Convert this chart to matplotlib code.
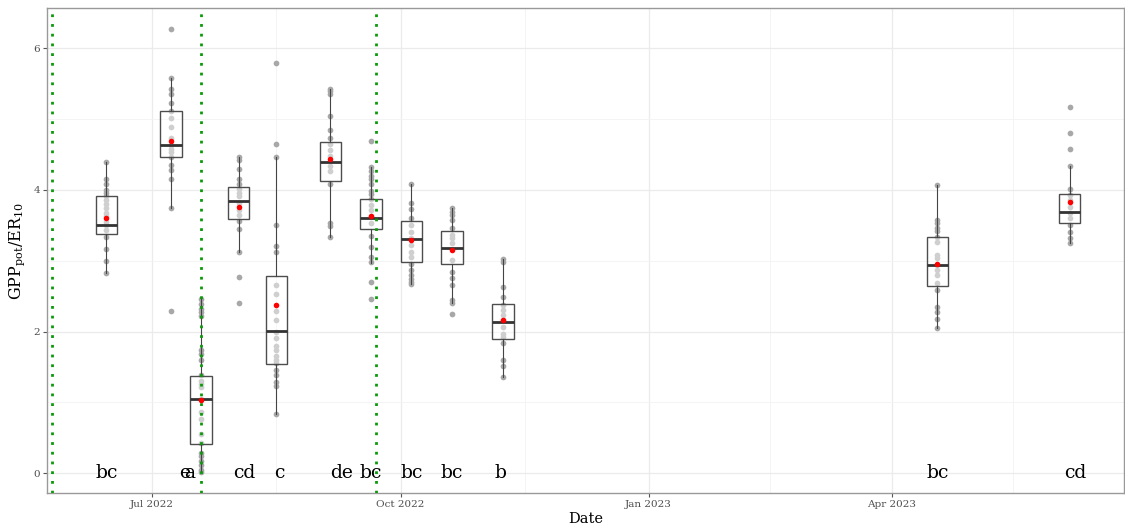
import numpy as np
import matplotlib
matplotlib.use('Agg')
import matplotlib.pyplot as plt
import matplotlib.dates as mdates
from matplotlib.ticker import FixedLocator

plt.rcParams['font.family'] = ['DejaVu Serif']
plt.rcParams['mathtext.fontset'] = 'dejavuserif'

# sampling dates of each box
box_dates = ['2022-06-14', '2022-07-08', '2022-07-19', '2022-08-02', '2022-08-16', '2022-09-05',
             '2022-09-20', '2022-10-05', '2022-10-20', '2022-11-08', '2023-04-18', '2023-06-06']

# box statistics
q1 = [3.38, 4.46, 0.41, 3.59, 1.54, 4.12, 3.45, 2.98, 2.96, 1.90, 2.64, 3.54]
med = [3.51, 4.63, 1.05, 3.85, 2.01, 4.40, 3.61, 3.31, 3.18, 2.14, 2.94, 3.69]
q3 = [3.91, 5.11, 1.37, 4.04, 2.78, 4.68, 3.87, 3.56, 3.42, 2.39, 3.33, 3.94]
whislo = [2.82, 3.75, 0.02, 3.13, 0.84, 3.33, 2.97, 2.67, 2.40, 1.36, 2.05, 3.25]
whishi = [4.40, 5.58, 2.46, 4.46, 4.46, 5.43, 4.32, 4.08, 3.74, 3.02, 4.07, 4.34]
means = [3.60, 4.69, 1.04, 3.76, 2.38, 4.43, 3.63, 3.29, 3.15, 2.16, 2.96, 3.83]

# individual observations per date
points = [
    [4.40, 4.15, 4.08, 4.00, 3.96, 3.91, 3.86, 3.80, 3.74, 3.68, 3.63, 3.55, 3.50, 3.44, 3.33, 3.17, 3.00, 2.82],
    [6.27, 5.58, 5.43, 5.35, 5.23, 5.11, 5.01, 4.89, 4.74, 4.63, 4.58, 4.53, 4.46, 4.35, 4.28, 4.16, 3.75, 2.29],
    [2.46, 2.39, 2.32, 2.27, 2.22, 1.74, 1.69, 1.60, 1.38, 1.30, 1.26, 1.22, 1.05, 0.87, 0.76, 0.55, 0.43,
     0.29, 0.24, 0.17, 0.11, 0.05, 0.02],
    [4.46, 4.42, 4.30, 4.15, 4.08, 4.01, 3.96, 3.91, 3.82, 3.72, 3.65, 3.56, 3.45, 3.13, 2.77, 2.40],
    [5.79, 4.65, 4.46, 3.50, 3.21, 3.12, 2.66, 2.53, 2.29, 2.17, 2.00, 1.91, 1.79, 1.74, 1.65, 1.60, 1.55,
     1.46, 1.38, 1.29, 1.23, 0.84],
    [5.43, 5.39, 5.35, 5.05, 4.85, 4.73, 4.65, 4.57, 4.48, 4.34, 4.27, 4.08, 3.53, 3.49, 3.33],
    [4.69, 4.32, 4.27, 4.20, 4.15, 4.08, 3.99, 3.94, 3.87, 3.79, 3.72, 3.63, 3.53, 3.35, 3.20, 3.06, 2.98,
     2.70, 2.46],
    [4.08, 3.81, 3.73, 3.60, 3.51, 3.41, 3.32, 3.22, 3.13, 3.06, 2.96, 2.87, 2.80, 2.74, 2.70, 2.67],
    [3.74, 3.69, 3.64, 3.58, 3.46, 3.36, 3.32, 3.25, 3.01, 2.84, 2.75, 2.66, 2.45, 2.40, 2.25],
    [3.02, 2.98, 2.63, 2.49, 2.37, 2.31, 2.23, 2.16, 2.07, 1.97, 1.92, 1.84, 1.60, 1.51, 1.36],
    [4.07, 3.58, 3.53, 3.46, 3.42, 3.33, 3.27, 3.08, 3.04, 2.94, 2.87, 2.80, 2.68, 2.58, 2.35, 2.28, 2.18, 2.05],
    [5.17, 4.80, 4.58, 4.34, 4.02, 3.93, 3.86, 3.76, 3.67, 3.60, 3.50, 3.41, 3.32, 3.25],
]

# significance letters
letters = ['bc', 'e', 'a', 'cd', 'c', 'de', 'bc', 'bc', 'bc', 'b', 'bc', 'cd']
letter_dates = ['2022-06-14', '2022-07-13', '2022-07-15', '2022-08-04', '2022-08-17', '2022-09-09',
                '2022-09-20', '2022-10-05', '2022-10-20', '2022-11-07', '2023-04-18', '2023-06-08']

# event dates (dotted lines)
event_dates = ['2022-05-25', '2022-07-19', '2022-09-22']

major_dates = ['2022-07-01', '2022-10-01', '2023-01-01', '2023-04-01']
minor_dates = ['2022-08-16', '2022-11-16', '2023-02-15', '2023-05-16']

pos = mdates.datestr2num(box_dates)

fig = plt.figure(figsize=(11.25, 5.29), dpi=100)
ax = fig.add_axes([0.0418, 0.068, 0.957, 0.917])

for x, p in zip(pos, points):
    ax.scatter(np.full(len(p), x), p, s=17, color='#a8a8a8', linewidths=0, zorder=2)

stats = []
for i in range(len(pos)):
    stats.append(dict(q1=q1[i], med=med[i], q3=q3[i], whislo=whislo[i], whishi=whishi[i], mean=means[i]))

ax.bxp(stats, positions=pos, widths=8, showfliers=False, showcaps=False, patch_artist=True,
       manage_ticks=False, zorder=3,
       boxprops=dict(facecolor=(1, 1, 1, 0.45), edgecolor='#4d4d4d', linewidth=1),
       medianprops=dict(color='#333333', linewidth=2),
       whiskerprops=dict(color='#444444', linewidth=0.8))

ax.scatter(pos, means, s=16, color='red', linewidths=0, zorder=5)

for d in mdates.datestr2num(event_dates):
    ax.axvline(d, color='#0a9a0a', linestyle=(0, (1, 2.5)), linewidth=2, zorder=4)

for lab, d in zip(letters, mdates.datestr2num(letter_dates)):
    ax.text(d, 0, lab, ha='center', va='center', fontsize=13.5, zorder=6)

ax.set_xlim(mdates.datestr2num('2022-05-23'), mdates.datestr2num('2023-06-26'))
ax.set_ylim(-0.28, 6.57)

ax.xaxis.set_major_locator(FixedLocator(mdates.datestr2num(major_dates)))
ax.xaxis.set_minor_locator(FixedLocator(mdates.datestr2num(minor_dates)))
ax.xaxis.set_major_formatter(mdates.DateFormatter('%b %Y'))
ax.set_yticks([0, 2, 4, 6])
ax.set_yticks([1, 3, 5], minor=True)

ax.grid(which='major', color='#ebebeb', linewidth=0.9, zorder=0)
ax.grid(which='minor', color='#f3f3f3', linewidth=0.6, zorder=0)
ax.set_axisbelow(True)

ax.tick_params(which='major', length=3, color='#555555', labelsize=7.5, labelcolor='#4d4d4d', pad=2)
ax.tick_params(which='minor', length=0)
for s in ax.spines.values():
    s.set_color('#999999')
    s.set_linewidth(1)

ax.set_xlabel('Date', fontsize=10.5, labelpad=2)
ax.set_ylabel(r'GPP$_{\mathrm{pot}}$/ER$_{10}$', fontsize=11.5, labelpad=5)

fig.savefig('out.png', dpi=100)
